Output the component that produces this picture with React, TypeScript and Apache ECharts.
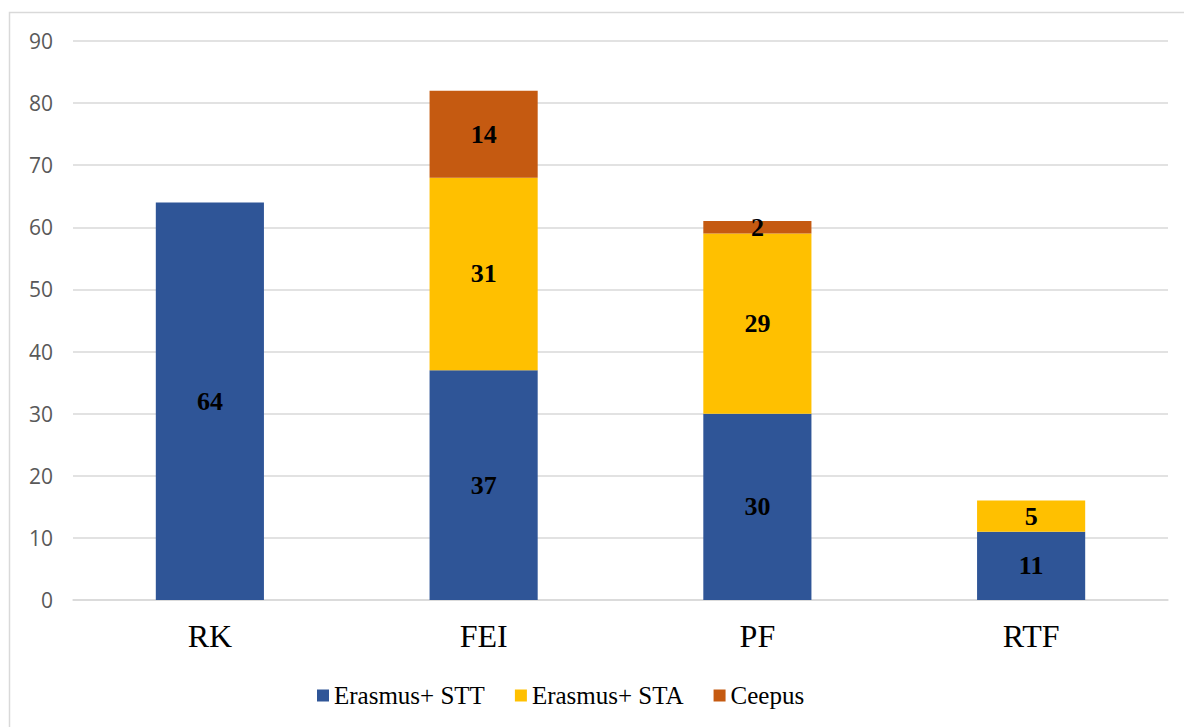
import React, { useEffect, useRef } from "react";
import * as echarts from "echarts";

const categories = ["RK", "FEI", "PF", "RTF"];
const seriesNames = ["Erasmus+ STT", "Erasmus+ STA", "Ceepus"];
const stt = [64, 37, 30, 11];
const sta = [0, 31, 29, 5];
const ceepus = [0, 14, 2, 0];
const colors = ["#2F5597", "#FFC000", "#C55A11"];
const yMin = 0;
const yMax = 90;
const yInterval = 10;

export default function App() {
  const ref = useRef<HTMLDivElement>(null);
  useEffect(() => {
    if (!ref.current) return;
    const chart = echarts.init(ref.current, undefined, { renderer: "svg" });
    const values = [stt, sta, ceepus];
    const serif = "Liberation Serif";
    const legendText = { fontFamily: serif, fontSize: 25, color: "#000" };
    chart.setOption({
      animation: false,
      backgroundColor: "#ffffff",
      textStyle: { fontFamily: serif },
      graphic: [
        {
          type: "rect",
          shape: { x: 9.5, y: 12.5, width: 1300, height: 900 },
          style: { fill: "none", stroke: "#d9d9d9", lineWidth: 1.5 },
          silent: true,
        },
      ],
      grid: { left: 73, right: 16, top: 41, bottom: 127 },
      legend: {
        left: 312,
        top: 678,
        itemWidth: 12,
        itemHeight: 12,
        itemGap: 30,
        icon: "rect",
        textStyle: legendText,
        data: seriesNames,
      },
      xAxis: {
        type: "category",
        data: categories,
        axisLine: { lineStyle: { color: "#d9d9d9", width: 1.5 } },
        axisTick: { show: false },
        axisLabel: { fontFamily: serif, fontSize: 32, color: "#000", margin: 20 },
      },
      yAxis: {
        type: "value",
        min: yMin,
        max: yMax,
        interval: yInterval,
        axisLine: { show: false },
        axisTick: { show: false },
        splitLine: { lineStyle: { color: "#d9d9d9", width: 1.5 } },
        axisLabel: {
          fontFamily: "Open Sans",
          fontSize: 21,
          color: "#595959",
          margin: 20,
        },
      },
      series: seriesNames.map((name, i) => ({
        name,
        type: "bar",
        stack: "total",
        barWidth: "39.5%",
        itemStyle: { color: colors[i] },
        data: values[i],
        label: {
          show: true,
          position: "inside",
          fontFamily: serif,
          fontWeight: "bold",
          fontSize: 26,
          color: "#000",
          formatter: (p: any) => (p.value === 0 ? "" : String(p.value)),
        },
      })),
    });
    return () => chart.dispose();
  }, []);
  return (
    <div
      ref={ref}
      style={{ position: "fixed", left: 0, top: 0, width: 1184, height: 727 }}
    />
  );
}
